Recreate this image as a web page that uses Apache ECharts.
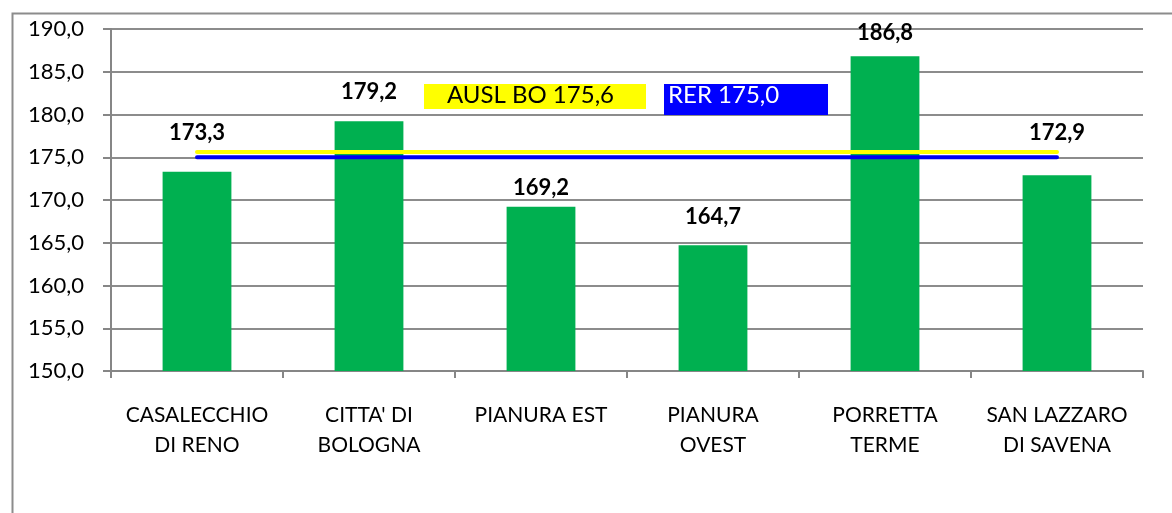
<!DOCTYPE html>
<html>
<head>
<meta charset="utf-8">
<script src="https://cdn.jsdelivr.net/npm/echarts@6/dist/echarts.min.js"></script>
<style>
  html, body { margin: 0; padding: 0; background: #fff; }
  #chart { width: 1172px; height: 513px; }
</style>
</head>
<body>
<div id="chart"></div>
<script>
// Districts and their values
const categories = ['CASALECCHIO\nDI RENO', "CITTA' DI\nBOLOGNA", 'PIANURA EST', 'PIANURA\nOVEST', 'PORRETTA\nTERME', 'SAN LAZZARO\nDI SAVENA'];
const values = [173.3, 179.2, 169.2, 164.7, 186.8, 172.9];
// Reference levels
const auslValue = 175.6;
const rerValue = 175.0;
const auslLabel = 'AUSL BO 175,6';
const rerLabel = 'RER 175,0';
// Gap between each bar and its value label (larger where the reference lines pass)
const labelGap = [28, 18, 8, 17, 12, 31];

const fmt = v => v.toFixed(1).replace('.', ',');
const FONT = 'Lato, "Open Sans", sans-serif';

const chart = echarts.init(document.getElementById('chart'));
chart.setOption({
  animation: false,
  backgroundColor: '#fff',
  grid: { left: 111, right: 29, top: 29, bottom: 142 },
  xAxis: {
    type: 'category',
    data: categories,
    boundaryGap: true,
    axisLine: { lineStyle: { color: '#868686', width: 2 } },
    axisTick: { show: true, length: 7, lineStyle: { color: '#868686', width: 2 } },
    axisLabel: { color: '#000', fontFamily: FONT, fontSize: 21, lineHeight: 30, margin: 29, interval: 0 }
  },
  yAxis: {
    type: 'value',
    min: 150, max: 190, interval: 5,
    axisLine: { show: true, lineStyle: { color: '#868686', width: 2 } },
    axisTick: { show: true, length: 8, lineStyle: { color: '#868686', width: 2 } },
    splitLine: { lineStyle: { color: '#8c8c8c', width: 2 } },
    axisLabel: { color: '#000', fontFamily: FONT, fontSize: 22, margin: 27, formatter: v => fmt(v) }
  },
  series: [
    {
      type: 'bar',
      barWidth: '40%',
      itemStyle: { color: '#00B050' },
      data: values.map((v, i) => ({
        value: v,
        label: { distance: labelGap[i] }
      })),
      label: {
        show: true, position: 'top', color: '#000',
        fontFamily: FONT, fontWeight: 'bold', fontSize: 22,
        formatter: p => fmt(p.value)
      },
      z: 2
    },
    {
      type: 'line',
      data: categories.map(() => auslValue),
      symbol: 'none',
      lineStyle: { color: '#FFFF00', width: 4, cap: 'round' },
      z: 3
    },
    {
      type: 'line',
      data: categories.map(() => rerValue),
      symbol: 'none',
      lineStyle: { color: '#0000EE', width: 4, cap: 'round' },
      z: 4
    }
  ],
  graphic: [
    {
      type: 'rect', left: 10, top: 11, silent: true,
      shape: { width: 1200, height: 560 },
      style: { fill: 'none', stroke: '#8c8c8c', lineWidth: 2 }
    },
    {
      type: 'rect', left: 424, top: 84, z: 10,
      shape: { width: 222, height: 25 },
      style: { fill: '#FFFF00' }
    },
    {
      type: 'text', left: 447, top: 83, z: 11,
      style: { text: auslLabel, fill: '#000', font: '24px ' + FONT }
    },
    {
      type: 'rect', left: 664, top: 84, z: 10,
      shape: { width: 164, height: 31 },
      style: { fill: '#0000FF' }
    },
    {
      type: 'text', left: 668, top: 83, z: 11,
      style: { text: rerLabel, fill: '#fff', font: '24px ' + FONT }
    }
  ]
});
</script>
</body>
</html>
